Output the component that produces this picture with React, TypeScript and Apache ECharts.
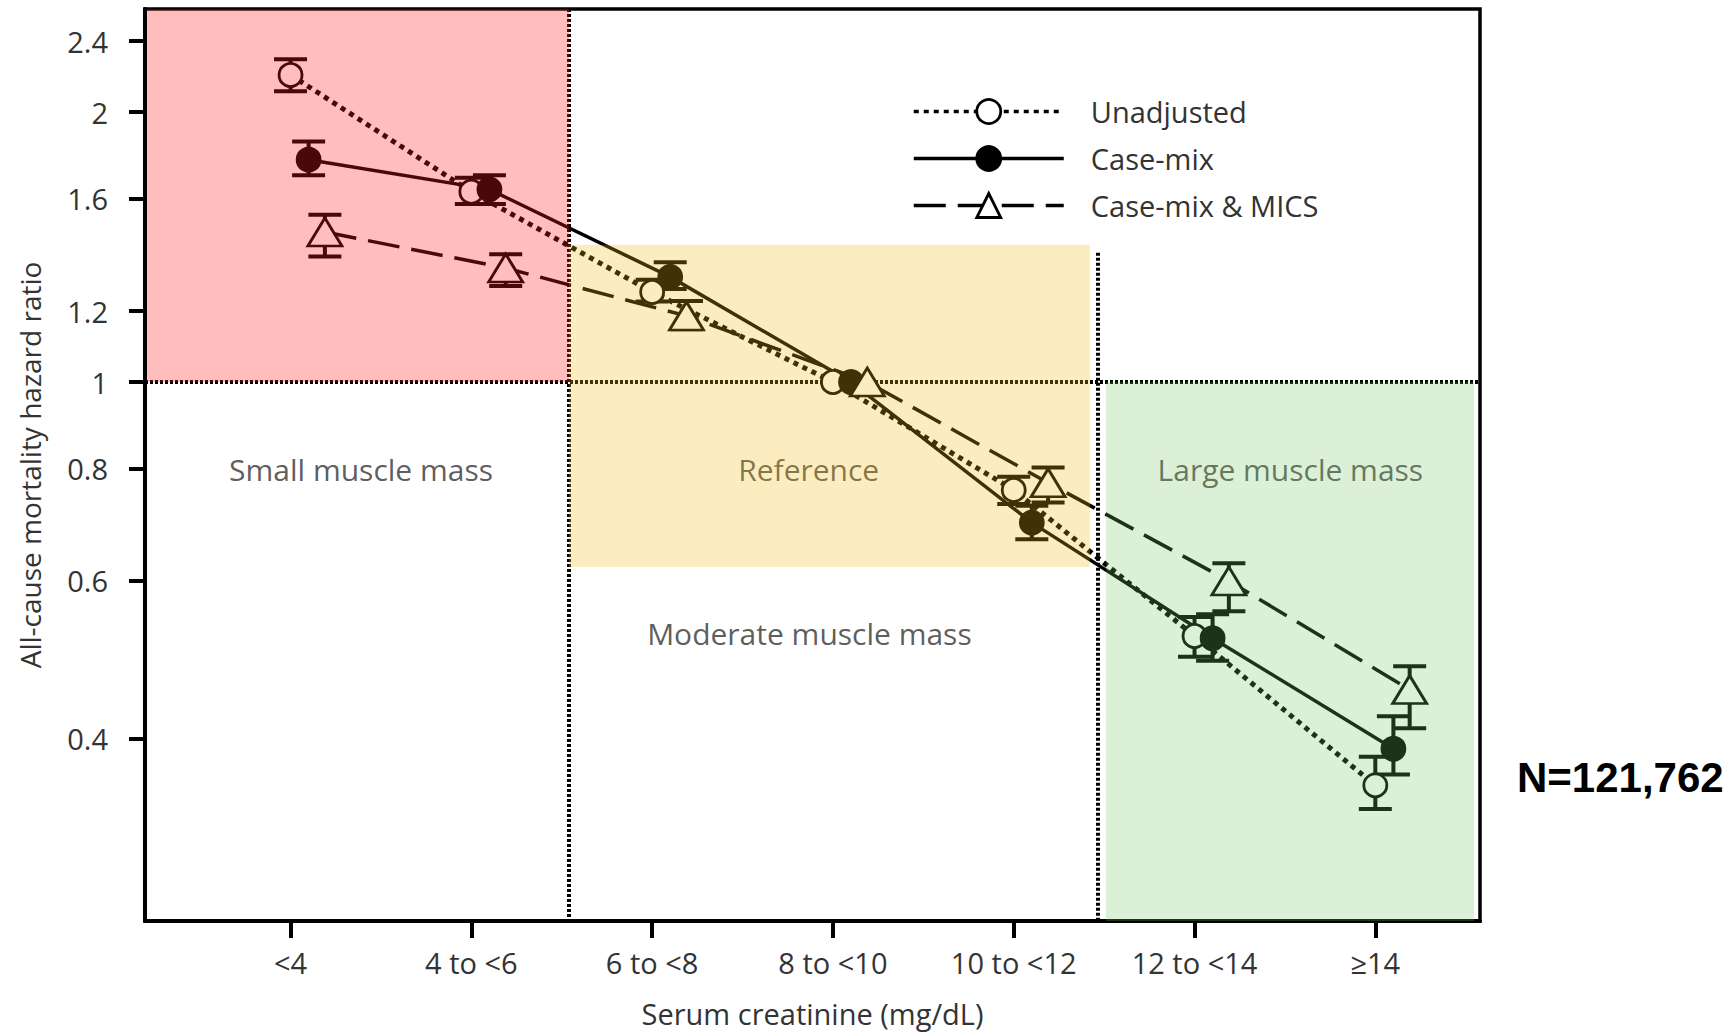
import React, { useEffect, useRef } from 'react';
import * as echarts from 'echarts';

// ---- data ----
const categories = ['<4', '4 to <6', '6 to <8', '8 to <10', '10 to <12', '12 to <14', '≥14'];
const yTickValues = [0.4, 0.6, 0.8, 1, 1.2, 1.6, 2, 2.4];
const yTickLabels = ['0.4', '0.6', '0.8', '1', '1.2', '1.6', '2', '2.4'];
const seriesNames = ['Unadjusted', 'Case-mix', 'Case-mix & MICS'];

const unadjusted = [2.2, 1.63, 1.26, 1.0, 0.758, 0.521, 0.355];
const unadjustedLow = [2.11, 1.58, 1.23, null, 0.731, 0.494, 0.334];
const unadjustedHigh = [2.29, 1.69, 1.3, null, 0.784, 0.547, 0.382];

const caseMix = [1.77, 1.64, 1.31, 1.0, 0.697, 0.518, 0.39];
const caseMixLow = [1.7, 1.58, 1.27, null, 0.668, 0.489, 0.365];
const caseMixHigh = [1.855, 1.7, 1.36, null, 0.728, 0.551, 0.424];

const mics = [1.47, 1.34, 1.185, 1.0, 0.772, 0.6, 0.454];
const micsLow = [1.38, 1.28, 1.145, null, 0.734, 0.555, 0.411];
const micsHigh = [1.537, 1.388, 1.231, null, 0.803, 0.628, 0.482];

const regionLabels = ['Small muscle mass', 'Reference', 'Large muscle mass', 'Moderate muscle mass'];

// ---- layout ----
const FONT = '"Open Sans", "Liberation Sans", sans-serif';
const X_MIN = -0.805;
const X_MAX = 6.579;
const LN_MIN = Math.log(0.2506);
const LN_MAX = Math.log(2.606);
const DODGE = [0, 0.1, 0.19];

function tickLabel(v: number): string {
  const idx = yTickValues.findIndex((t) => Math.abs(Math.log(t) - v) < 1e-6);
  return idx >= 0 ? yTickLabels[idx] : '';
}

function lineSeries(name: string, values: number[], off: number, symbol: string, symbolSize: any, fill: string, lineType: any, lineWidth: number, extra: any = {}) {
  return {
    type: 'line',
    name,
    z: 3,
    silent: true,
    data: values.map((v, i) => [i + off, Math.log(v)]),
    symbol,
    symbolSize,
    showAllSymbol: true,
    itemStyle: { color: fill, borderColor: '#000', borderWidth: 2.8 },
    lineStyle: { color: '#000', width: lineWidth, type: lineType },
    emphasis: { disabled: true },
    ...extra,
  };
}

function errorSeries(name: string, low: (number | null)[], high: (number | null)[], off: number) {
  const data: number[][] = [];
  low.forEach((lo, i) => {
    const hi = high[i];
    if (lo != null && hi != null) data.push([i + off, Math.log(lo), Math.log(hi)]);
  });
  return {
    type: 'custom',
    name,
    z: 2,
    silent: true,
    data,
    encode: { x: 0, y: [1, 2] },
    renderItem: (params: any, api: any) => {
      const p1 = api.coord([api.value(0), api.value(1)]);
      const p2 = api.coord([api.value(0), api.value(2)]);
      const hw = 16.5;
      const style = { stroke: '#000', lineWidth: 4 };
      return {
        type: 'group',
        children: [
          { type: 'line', shape: { x1: p1[0], y1: p1[1], x2: p2[0], y2: p2[1] }, style },
          { type: 'line', shape: { x1: p1[0] - hw, y1: p1[1], x2: p1[0] + hw, y2: p1[1] }, style },
          { type: 'line', shape: { x1: p2[0] - hw, y1: p2[1], x2: p2[0] + hw, y2: p2[1] }, style },
        ],
      };
    },
  };
}

export default function App() {
  const ref = useRef<HTMLDivElement>(null);

  useEffect(() => {
    if (!ref.current) return;
    const chart = echarts.init(ref.current, null, { renderer: 'svg' });

    const RED_X = 1.54;
    const YEL_X1 = 4.422;
    const DOT2_X = 4.463;
    const GRN_X = 4.51;

    const option: any = {
      animation: false,
      backgroundColor: '#fff',
      textStyle: { fontFamily: FONT },
      grid: {
        left: 145,
        right: 252,
        top: 9,
        bottom: 110.5,
        show: true,
        borderColor: '#000',
        borderWidth: 3.5,
        backgroundColor: 'transparent',
      },
      xAxis: {
        type: 'value',
        min: X_MIN,
        max: X_MAX,
        splitLine: { show: false },
        axisLine: { show: true, onZero: false, lineStyle: { color: '#000', width: 4 } },
        axisTick: {
          show: true,
          customValues: categories.map((_, i) => i),
          length: 17,
          lineStyle: { color: '#000', width: 4 },
        },
        axisLabel: {
          customValues: categories.map((_, i) => i),
          formatter: (v: number) => categories[Math.round(v)] ?? '',
          margin: 27,
          fontSize: 29,
          color: '#333',
          fontFamily: FONT,
        },
        name: 'Serum creatinine (mg/dL)',
        nameLocation: 'middle',
        nameGap: 78,
        nameTextStyle: { fontSize: 29, color: '#333', fontFamily: FONT },
      },
      yAxis: {
        type: 'value',
        min: LN_MIN,
        max: LN_MAX,
        splitLine: { show: false },
        axisLine: { show: true, onZero: false, lineStyle: { color: '#000', width: 4 } },
        axisTick: {
          show: true,
          customValues: yTickValues.map((t) => Math.log(t)),
          length: 16,
          lineStyle: { color: '#000', width: 4 },
        },
        axisLabel: {
          customValues: yTickValues.map((t) => Math.log(t)),
          formatter: (v: number) => tickLabel(v),
          margin: 37,
          fontSize: 29,
          color: '#333',
          fontFamily: FONT,
        },
        name: 'All-cause mortality hazard ratio',
        nameLocation: 'middle',
        nameGap: 101,
        nameTextStyle: { fontSize: 28, color: '#333', fontFamily: FONT },
      },
      legend: {
        data: seriesNames,
        orient: 'vertical',
        left: 907,
        top: 92,
        itemWidth: 150,
        itemHeight: 30,
        itemGap: 18,
        selectedMode: false,
        textStyle: { fontSize: 29, color: '#333', fontFamily: FONT, padding: [0, 0, 0, 22] },
        itemStyle: { borderWidth: 2.8 },
        lineStyle: { width: 3.5 },
      },
      series: [
        errorSeries('Unadjusted CI', unadjustedLow, unadjustedHigh, DODGE[0]),
        errorSeries('Case-mix CI', caseMixLow, caseMixHigh, DODGE[1]),
        errorSeries('Case-mix & MICS CI', micsLow, micsHigh, DODGE[2]),
        lineSeries(seriesNames[0], unadjusted, DODGE[0], 'circle', 23, '#fff', [5, 5], 5, {
          markLine: {
            silent: true,
            z: 1,
            symbol: ['none', 'none'],
            label: { show: false },
            lineStyle: { color: '#000', width: 4, type: [3, 2] },
            data: [
              [{ coord: [RED_X, LN_MAX] }, { coord: [RED_X, LN_MIN] }],
              [{ coord: [DOT2_X, Math.log(1.394)] }, { coord: [DOT2_X, LN_MIN] }],
              [{ coord: [X_MIN, 0] }, { coord: [X_MAX, 0] }],
            ],
          },
          markArea: {
            silent: true,
            z: 20,
            label: { show: false },
            data: [
              [
                { coord: [X_MIN + 0.012, LN_MAX], itemStyle: { color: 'rgba(255,28,28,0.29)' } },
                { coord: [RED_X, 0] },
              ],
              [
                { coord: [RED_X, Math.log(1.423)], itemStyle: { color: 'rgba(245,189,19,0.265)' } },
                { coord: [YEL_X1, Math.log(0.622)] },
              ],
              [
                { coord: [GRN_X, 0], itemStyle: { color: 'rgba(118,196,98,0.255)' } },
                { coord: [6.546, LN_MIN] },
              ],
            ],
          },
        }),
        lineSeries(seriesNames[1], caseMix, DODGE[1], 'circle', 23, '#000', 'solid', 3.5),
        lineSeries(seriesNames[2], mics, DODGE[2], 'triangle', [34, 28], '#fff', [32, 12], 3.5),
        {
          type: 'scatter',
          name: 'region labels',
          z: 2,
          silent: true,
          symbolSize: 1,
          itemStyle: { color: 'rgba(0,0,0,0)' },
          data: [
            { name: regionLabels[0], value: [0.39, Math.log(0.798)] },
            { name: regionLabels[1], value: [2.866, Math.log(0.798)] },
            { name: regionLabels[2], value: [5.53, Math.log(0.798)] },
            { name: regionLabels[3], value: [2.87, Math.log(0.524)] },
          ],
          label: {
            show: true,
            position: 'inside',
            formatter: '{b}',
            fontSize: 30,
            color: '#333',
            fontFamily: FONT,
          },
        },
      ],
      graphic: [
        {
          type: 'text',
          x: 1517,
          y: 777,
          style: {
            text: 'N=121,762',
            fontSize: 42,
            fontWeight: 'bold',
            fontFamily: '"Liberation Sans", Arial, sans-serif',
            fill: '#000',
            align: 'left',
            verticalAlign: 'middle',
          },
        },
      ],
    };

    chart.setOption(option);
    return () => chart.dispose();
  }, []);

  return (
    <div
      ref={ref}
      style={{ position: 'fixed', left: 0, top: 0, width: 1732, height: 1033, background: '#fff' }}
    />
  );
}
